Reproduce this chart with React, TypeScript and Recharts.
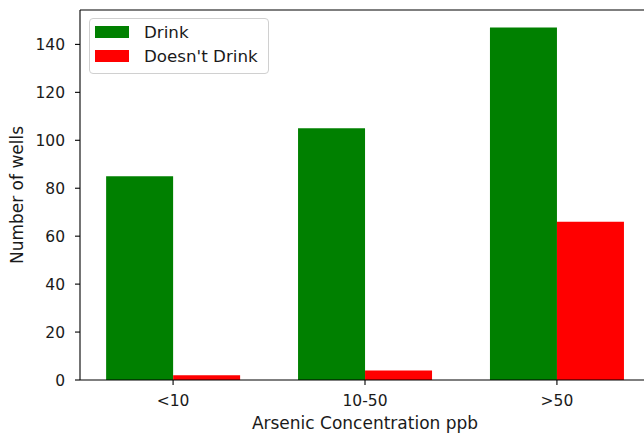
import React from 'react';
import { BarChart, Bar, XAxis, YAxis, Legend, ReferenceLine, Label } from 'recharts';

const categories = ['<10', '10-50', '>50'];
const drink = [85, 105, 147];
const doesntDrink = [2, 4, 66];
const yTicks = [0, 20, 40, 60, 80, 100, 120, 140];

const data = categories.map((c, i) => ({ pos: i, name: c, drink: drink[i], doesntDrink: doesntDrink[i] }));

const FONT = 'DejaVu Sans';
const TEXT = '#1a1a1a';
const FS = 17;
const TFS = 15.5;
const barWidthUnits = 0.35;
const xPad = 0.05 * (categories.length - 1 + 2 * barWidthUnits);
const xDomain = [-barWidthUnits - xPad, categories.length - 1 + barWidthUnits + xPad];
const yMax = Math.max(...drink, ...doesntDrink) * 1.05;

const legendItems = [
  { label: 'Drink', color: '#008000' },
  { label: "Doesn't Drink", color: '#ff0000' },
];

const renderLegend = () => (
  <div
    style={{
      border: '1px solid #d0d0d0',
      borderRadius: 4,
      background: 'rgba(255,255,255,0.8)',
      padding: '1px 9px 5px 5px',
      fontFamily: FONT,
      fontSize: 16.7,
      color: TEXT,
      boxSizing: 'border-box',
      width: 180,
      textAlign: 'left',
    }}
  >
    {legendItems.map((it) => (
      <div key={it.label} style={{ display: 'flex', alignItems: 'center', height: 24 }}>
        <span style={{ display: 'inline-block', width: 34, height: 12, background: it.color, marginRight: 15 }} />
        <span style={{ lineHeight: '24px' }}>{it.label}</span>
      </div>
    ))}
  </div>
);

const YLabel = (props: any) => {
  const vb = props.viewBox;
  const cx = 23;
  const cy = vb.y + vb.height / 2;
  return (
    <text
      x={cx}
      y={cy}
      transform={`rotate(-90, ${cx}, ${cy})`}
      textAnchor="middle"
      fontFamily={FONT}
      fontSize={FS}
      fill={TEXT}
    >
      Number of wells
    </text>
  );
};

export default function App() {
  return (
    <div style={{ position: 'absolute', left: 0, top: 0, width: 644, height: 436, overflow: 'hidden', background: '#fff' }}>
      <BarChart
        width={660}
        height={436}
        data={data}
        margin={{ top: 10, right: 10, left: 20, bottom: 0 }}
        barGap={0}
        barSize={67}
      >
        <XAxis
          type="number"
          dataKey="pos"
          domain={xDomain}
          ticks={[0, 1, 2]}
          tickFormatter={(v: number) => categories[v]}
          height={56}
          allowDataOverflow
          axisLine={{ stroke: '#000', strokeWidth: 1.1 }}
          tickLine={{ stroke: '#000', strokeWidth: 1.1 }}
          tickSize={5}
          tickMargin={10}
          tick={{ fontFamily: FONT, fontSize: TFS, fill: TEXT }}
        >
          <Label
            value="Arsenic Concentration ppb"
            position="insideBottom"
            offset={7}
            style={{ fontFamily: FONT, fontSize: FS, fill: TEXT }}
          />
        </XAxis>
        <YAxis
          type="number"
          domain={[0, yMax]}
          ticks={yTicks}
          width={60}
          allowDataOverflow
          axisLine={{ stroke: '#000', strokeWidth: 1.1 }}
          tickLine={{ stroke: '#000', strokeWidth: 1.1 }}
          tickSize={5}
          tickMargin={10}
          tick={{ fontFamily: FONT, fontSize: TFS, fill: TEXT }}
        >
          <Label content={YLabel} />
        </YAxis>
        <Legend
          content={renderLegend}
          layout="vertical"
          verticalAlign="middle"
          align="center"
          wrapperStyle={{ position: 'absolute', left: 89, top: 18, width: 180 }}
        />
        <Bar dataKey="drink" name="Drink" fill="#008000" isAnimationActive={false} />
        <Bar dataKey="doesntDrink" name="Doesn't Drink" fill="#ff0000" isAnimationActive={false} />
        <ReferenceLine y={yMax} stroke="#000" strokeWidth={1.1} />
        <ReferenceLine x={xDomain[1]} stroke="#000" strokeWidth={1.1} />
      </BarChart>
    </div>
  );
}
